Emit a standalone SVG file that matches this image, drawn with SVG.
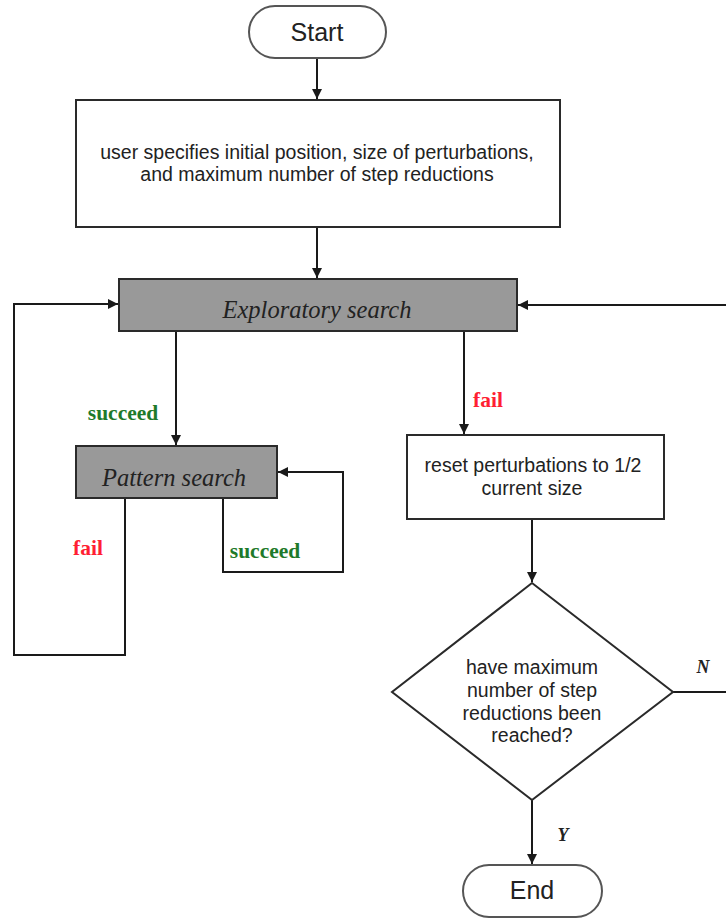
<svg xmlns="http://www.w3.org/2000/svg" width="726" height="924" viewBox="0 0 726 924">
  <style>
    .box { fill: #ffffff; stroke: #2a2a2a; stroke-width: 2; }
    .grey { fill: #999999; stroke: #2a2a2a; stroke-width: 2; }
    .term { fill: #ffffff; stroke: #555555; stroke-width: 2; }
    .sans { font-family: "Liberation Sans", Arial, sans-serif; fill: #222222; text-anchor: middle; }
    .body { font-size: 19.5px; }
    .ital { font-family: "Liberation Serif", "Times New Roman", serif; font-style: italic; font-size: 24.5px; fill: #222222; text-anchor: middle; }
    .lbl { font-family: "Liberation Serif", "Times New Roman", serif; font-weight: bold; font-size: 21.5px; text-anchor: middle; }
    .ok { fill: #1e7a2a; }
    .bad { fill: #ff1f33; }
    .yn { font-family: "Liberation Serif", "Times New Roman", serif; font-style: italic; font-weight: bold; font-size: 18px; fill: #222222; text-anchor: middle; }
    .wire { fill: none; stroke: #1a1a1a; stroke-width: 2; }
  </style>
  <defs>
    <marker id="arrow" viewBox="0 0 10 10" refX="10" refY="5" markerWidth="5" markerHeight="5" orient="auto" markerUnits="strokeWidth">
      <path d="M0,0 L10,5 L0,10 z" fill="#1a1a1a"/>
    </marker>
  </defs>

  <rect width="726" height="924" fill="#ffffff"/>

  <g id="connectors">
    <path class="wire" d="M317,58 V99" marker-end="url(#arrow)"/>
    <path class="wire" d="M317,227 V278" marker-end="url(#arrow)"/>
    <path class="wire" d="M176,331 V445" marker-end="url(#arrow)"/>
    <path class="wire" d="M464,331 V434" marker-end="url(#arrow)"/>
    <path class="wire" d="M125,498 V655 H14 V304 H118" marker-end="url(#arrow)"/>
    <path class="wire" d="M223,498 V572 H343 V472 H278" marker-end="url(#arrow)"/>
    <path class="wire" d="M532,519 V582" marker-end="url(#arrow)"/>
    <path class="wire" d="M673,692 H726"/>
    <path class="wire" d="M726,305 H518" marker-end="url(#arrow)"/>
    <path class="wire" d="M532,800 V864" marker-end="url(#arrow)"/>
    <text class="lbl ok" x="123" y="420">succeed</text>
    <text class="lbl bad" x="488" y="407">fail</text>
    <text class="lbl bad" x="88" y="555">fail</text>
    <text class="lbl ok" x="265" y="558">succeed</text>
    <text class="yn" x="703" y="673">N</text>
    <text class="yn" x="563" y="841">Y</text>
  </g>

  <g id="start">
    <rect class="term" x="249" y="6" width="137" height="52" rx="26" ry="26"/>
    <text class="sans" x="317" y="41" font-size="25">Start</text>
  </g>

  <g id="setup">
    <rect class="box" x="76" y="100" width="484" height="127"/>
    <text class="sans body" x="317" y="159">user specifies initial position, size of perturbations,</text>
    <text class="sans body" x="317" y="181">and maximum number of step reductions</text>
  </g>

  <g id="exploratory">
    <rect class="grey" x="119" y="279" width="398" height="52"/>
    <text class="ital" x="317" y="318">Exploratory search</text>
  </g>

  <g id="pattern">
    <rect class="grey" x="76" y="446" width="201" height="52"/>
    <text class="ital" x="174" y="486">Pattern search</text>
  </g>

  <g id="reset">
    <rect class="box" x="407" y="435" width="257" height="84"/>
    <text class="sans body" x="533" y="472">reset perturbations to 1/2</text>
    <text class="sans body" x="532" y="495">current size</text>
  </g>

  <g id="decision">
    <polygon class="box" points="532,583 673,692 532,800 392,692"/>
    <text class="sans body" x="532" y="674">have maximum</text>
    <text class="sans body" x="532" y="697">number of step</text>
    <text class="sans body" x="532" y="720">reductions been</text>
    <text class="sans body" x="532" y="742">reached?</text>
  </g>

  <g id="end">
    <rect class="term" x="463" y="865" width="139" height="52" rx="26" ry="26"/>
    <text class="sans" x="532" y="899" font-size="25">End</text>
  </g>
</svg>
